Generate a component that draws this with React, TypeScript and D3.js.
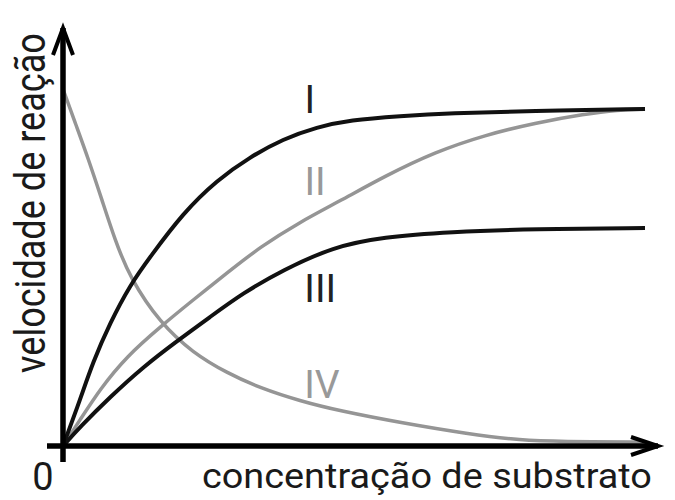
import React, { useLayoutEffect, useRef, useState } from "react";
import * as d3 from "d3";

// substrate concentration (relative units, 0..100) and reaction velocity (relative, 0..100)
const curveIx = [0, 2.92, 5.15, 8.08, 11.52, 14.95, 20.62, 26.46, 32.13, 37.8, 43.64, 49.31, 57.9, 66.49, 80.24, 100];
const curveIy = [0, 13.65, 24.93, 36.5, 47.77, 56.08, 69.14, 78.93, 85.76, 91.1, 94.66, 96.74, 97.92, 98.81, 99.41, 100];

const curveIIx = [0, 2.92, 6.36, 11.0, 16.67, 22.34, 28.18, 33.85, 40.72, 47.59, 55.33, 63.92, 72.51, 81.1, 89.69, 95.36, 100];
const curveIIy = [0, 7.72, 16.91, 26.71, 35.31, 43.32, 51.34, 59.05, 66.47, 72.7, 80.12, 87.24, 92.28, 95.85, 98.52, 99.7, 100];

const curveIIIx = [0, 2.92, 8.08, 13.75, 19.59, 25.26, 30.93, 37.8, 46.39, 54.98, 66.49, 81.1, 100];
const curveIIIy = [0, 5.64, 14.54, 23.44, 31.16, 38.28, 45.4, 52.23, 59.05, 62.02, 63.5, 64.39, 64.69];

const curveIVx = [0, 2.23, 4.3, 6.7, 8.93, 11.51, 16.67, 22.34, 28.18, 33.85, 40.72, 47.59, 58.25, 69.59, 78.87, 85.4, 100];
const curveIVy = [105.93, 95.25, 85.46, 73.0, 61.13, 49.85, 36.5, 27.6, 21.66, 17.21, 13.35, 10.39, 6.82, 3.56, 1.63, 1.34, 1.19];

const seriesNames = ["I", "II", "III", "IV"];
// label anchor positions (data units)
const labelX = [42.4, 43.3, 44.2, 44.5];
const labelY = [98.8, 74.5, 42.7, 14.2];

const xTitle = "concentração de substrato";
const yTitle = "velocidade de reação";
const originLabel = "0";

const W = 675;
const H = 500;

export default function App() {
  const x = d3.scaleLinear().domain([0, 100]).range([63, 645]);
  const y = d3.scaleLinear().domain([0, 100]).range([446, 109]);

  const xTitleRef = useRef<SVGTextElement>(null);
  const yTitleRef = useRef<SVGTextElement>(null);
  const [sx, setSx] = useState(1);
  const [sy, setSy] = useState(1);
  const xTitleLen = 450;
  const yTitleLen = 340;

  useLayoutEffect(() => {
    if (xTitleRef.current) {
      const l = xTitleRef.current.getComputedTextLength();
      if (l > 0) setSx(xTitleLen / l);
    }
    if (yTitleRef.current) {
      const l = yTitleRef.current.getComputedTextLength();
      if (l > 0) setSy(yTitleLen / l);
    }
  }, []);

  const line = d3
    .line<[number, number]>()
    .x((d) => x(d[0]))
    .y((d) => y(d[1]))
    .curve(d3.curveBasis);

  const zip = (xs: number[], ys: number[]) =>
    xs.map((v, i) => [v, ys[i]] as [number, number]);

  const series = [
    { pts: zip(curveIx, curveIy), color: "#111", w: 4 },
    { pts: zip(curveIIx, curveIIy), color: "#959595", w: 3.5 },
    { pts: zip(curveIIIx, curveIIIy), color: "#111", w: 4 },
    { pts: zip(curveIVx, curveIVy), color: "#959595", w: 3.5 },
  ];
  const labelColors = ["#222", "#999", "#222", "#999"];

  const ox = x(0);
  const oy = y(0);
  const yTop = 28;
  const xRight = 658;

  const font = "Roboto, 'DejaVu Sans', sans-serif";

  return (
    <svg
      width={W}
      height={H}
      viewBox={`0 0 ${W} ${H}`}
      style={{ position: "absolute", left: 0, top: 0, background: "#fff" }}
    >
      <rect x={0} y={0} width={W} height={H} fill="#fff" />
      {/* curves: gray ones first so black draws on top where they meet */}
      {[1, 3, 0, 2].map((i) => (
        <path
          key={i}
          d={line(series[i].pts) || ""}
          fill="none"
          stroke={series[i].color}
          strokeWidth={series[i].w}
        />
      ))}
      {/* axes */}
      <line x1={ox - 16} y1={oy} x2={xRight} y2={oy} stroke="#000" strokeWidth={5.5} />
      <line x1={ox} y1={oy + 16} x2={ox} y2={yTop} stroke="#000" strokeWidth={5.5} />
      <path
        d={`M${xRight - 27},${oy - 9} L${xRight},${oy} L${xRight - 27},${oy + 9}`}
        fill="none"
        stroke="#000"
        strokeWidth={4}
        strokeLinejoin="miter"
      />
      <path
        d={`M${ox - 10},${yTop + 27} L${ox},${yTop} L${ox + 10},${yTop + 27}`}
        fill="none"
        stroke="#000"
        strokeWidth={4}
        strokeLinejoin="miter"
      />
      {/* series labels */}
      {seriesNames.map((n, i) => (
        <text
          key={n}
          x={x(labelX[i])}
          y={y(labelY[i])}
          textAnchor="middle"
          fontFamily={font}
          fontSize={39}
          fill={labelColors[i]}
        >
          {n}
        </text>
      ))}
      {/* axis titles */}
      <text
        ref={xTitleRef}
        transform={`translate(202,488) scale(${sx},1)`}
        fontFamily={font}
        fontSize={35}
        fill="#1a1a1a"
      >
        {xTitle}
      </text>
      <text
        ref={yTitleRef}
        transform={`translate(45,373) rotate(-90) scale(${sy},1)`}
        fontFamily={font}
        fontSize={43}
        fill="#1a1a1a"
      >
        {yTitle}
      </text>
      <text x={43} y={490} textAnchor="middle" fontFamily={font} fontSize={38} fill="#1a1a1a">
        {originLabel}
      </text>
    </svg>
  );
}
